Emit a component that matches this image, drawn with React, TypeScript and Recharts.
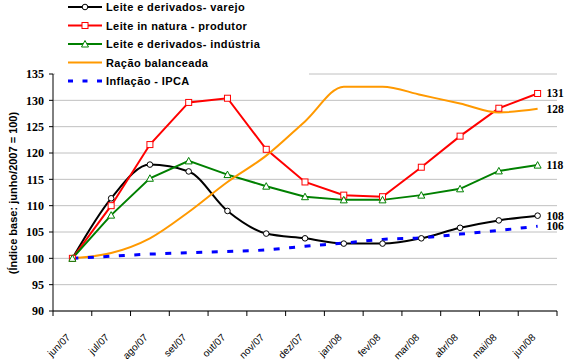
import { LineChart, Line, XAxis, YAxis, CartesianGrid } from "recharts";

const months = ["jun/07", "jul/07", "ago/07", "set/07", "out/07", "nov/07", "dez/07", "jan/08", "fev/08", "mar/08", "abr/08", "mai/08", "jun/08"];
const varejo = [100, 111.4, 117.8, 116.5, 109.0, 104.7, 103.8, 102.8, 102.8, 103.8, 105.8, 107.2, 108.1];
const produtor = [100, 110.0, 121.6, 129.6, 130.4, 120.7, 114.5, 112.0, 111.7, 117.3, 123.2, 128.5, 131.3];
const industria = [100, 108.2, 115.2, 118.5, 115.9, 113.7, 111.7, 111.1, 111.1, 112.0, 113.2, 116.6, 117.7];
const racao = [100, 101.0, 103.8, 108.8, 114.5, 119.5, 126.0, 132.6, 132.6, 131.0, 129.4, 127.7, 128.4];
const ipca = [100, 100.4, 100.8, 101.05, 101.3, 101.6, 102.3, 102.9, 103.6, 103.9, 104.6, 105.3, 106.1];
const yTicks = [90, 95, 100, 105, 110, 115, 120, 125, 130, 135];
const xBounds = [0, 1, 2, 3, 4, 5, 6, 7, 8, 9, 10, 11, 12, 13];

const legendItems = [
  { name: "Leite e derivados- varejo", color: "#000000", marker: "circle" },
  { name: "Leite in natura - produtor", color: "#ff0000", marker: "square" },
  { name: "Leite e derivados- indústria", color: "#008000", marker: "triangle" },
  { name: "Ração balanceada", color: "#ff9900", marker: "none" },
  { name: "Inflação - IPCA", color: "#0000ff", marker: "dash" },
];

const SANS = "'Liberation Sans', Arial, sans-serif";
const SERIF = "'Liberation Serif', 'Times New Roman', serif";

const data = months.map((m, i) => ({
  m,
  x: i + 0.5,
  varejo: varejo[i],
  produtor: produtor[i],
  industria: industria[i],
  racao: racao[i],
  ipca: ipca[i],
}));

const Marker = ({ type, cx, cy, color }: { type: string; cx: number; cy: number; color: string }) => {
  if (type === "circle") return <circle cx={cx} cy={cy} r={2.8} fill="#fff" stroke={color} strokeWidth={1} />;
  if (type === "square")
    return <rect x={cx - 3} y={cy - 3} width={6} height={6} fill="#fff" stroke={color} strokeWidth={1} />;
  if (type === "triangle")
    return (
      <polygon
        points={`${cx},${cy - 3.5} ${cx + 3.5},${cy + 3} ${cx - 3.5},${cy + 3}`}
        fill="#fff"
        stroke={color}
        strokeWidth={1}
      />
    );
  return null;
};

const dotOf = (type: string, color: string) => (p: any) =>
  <g key={`${type}-${p.index}`}><Marker type={type} cx={p.cx} cy={p.cy} color={color} /></g>;

const endLabel = (p: any) => {
  if (p.index !== months.length - 1) return null;
  return (
    <text
      key="end"
      x={p.x + 9}
      y={p.y + 4}
      fontFamily={SERIF}
      fontWeight="bold"
      fontSize={11.5}
      fill="#000"
    >
      {Math.round(p.value)}
    </text>
  );
};

const XTick = (p: any) => {
  const v = p.payload.value;
  if (v >= months.length) return null;
  const ax = p.x + 18;
  const ay = p.y + 20;
  return (
    <text
      x={ax}
      y={ay}
      textAnchor="end"
      transform={`rotate(-45 ${ax} ${ay})`}
      fontFamily={SANS}
      fontSize={10}
      fill="#000"
    >
      {months[v]}
    </text>
  );
};

const YTitle = () => (
  <text
    x={17}
    y={193}
    textAnchor="middle"
    transform="rotate(-90 17 193)"
    fontFamily={SANS}
    fontWeight="bold"
    fontSize={11}
    fill="#000"
  >
    (Índice base: junho/2007 = 100)
  </text>
);

const Legend = () => (
  <svg width={310} height={91} style={{ position: "absolute", left: 0, top: 0 }}>
    <rect x={55} y={0} width={254} height={91} fill="#fff" />
    {legendItems.map((it, i) => {
      const cy = 7 + i * 18.5;
      return (
        <g key={it.name}>
          <line
            x1={68}
            x2={102}
            y1={cy}
            y2={cy}
            stroke={it.color}
            strokeWidth={it.marker === "dash" ? 3 : 2}
            strokeDasharray={it.marker === "dash" ? "5 9.5" : undefined}
          />
          <Marker type={it.marker} cx={85} cy={cy} color={it.color} />
          <text x={106} y={cy + 4} fontFamily={SANS} fontWeight="bold" fontSize={11} letterSpacing={0.4} fill="#000">
            {it.name}
          </text>
        </g>
      );
    })}
  </svg>
);

export default function App() {
  return (
    <div style={{ position: "absolute", left: 0, top: 0, width: 575, height: 362, background: "#fff" }}>
      <LineChart width={575} height={362} data={data} margin={{ top: 74, right: 18, bottom: 0, left: 0 }}>
        <CartesianGrid vertical={false} stroke="#c0c0c0" />
        <XAxis
          dataKey="x"
          type="number"
          domain={[0, 13]}
          ticks={xBounds}
          interval={0}
          tickSize={5}
          height={51}
          stroke="#000"
          tick={<XTick />}
        />
        <YAxis
          domain={[90, 135]}
          ticks={yTicks}
          interval={0}
          width={53}
          tickSize={4}
          tickMargin={5}
          stroke="#000"
          tick={{ fontFamily: SERIF, fontWeight: "bold", fontSize: 12, fill: "#000" }}
          label={<YTitle />}
        />
        <Line
          dataKey="varejo"
          type="monotone"
          stroke="#000"
          strokeWidth={2}
          dot={dotOf("circle", "#000")}
          label={endLabel}
          isAnimationActive={false}
        />
        <Line
          dataKey="produtor"
          type="linear"
          stroke="#ff0000"
          strokeWidth={2}
          dot={dotOf("square", "#ff0000")}
          label={endLabel}
          isAnimationActive={false}
        />
        <Line
          dataKey="industria"
          type="linear"
          stroke="#008000"
          strokeWidth={2}
          dot={dotOf("triangle", "#008000")}
          label={endLabel}
          isAnimationActive={false}
        />
        <Line
          dataKey="racao"
          type="monotone"
          stroke="#ff9900"
          strokeWidth={2}
          dot={false}
          label={endLabel}
          isAnimationActive={false}
        />
        <Line
          dataKey="ipca"
          type="monotone"
          stroke="#0000ff"
          strokeWidth={3}
          strokeDasharray="6 9.5"
          dot={false}
          label={endLabel}
          isAnimationActive={false}
        />
      </LineChart>
      <Legend />
    </div>
  );
}
